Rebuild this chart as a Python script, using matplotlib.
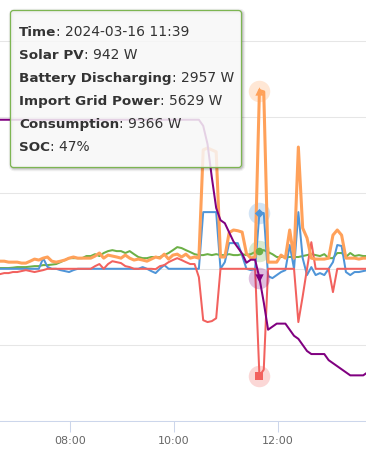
import numpy as np
import pandas as pd
import matplotlib
matplotlib.use('Agg')
import matplotlib.pyplot as plt
import matplotlib.dates as mdates
from matplotlib.patches import FancyBboxPatch

# ---------------- data ----------------
times = pd.date_range('2024-03-16 06:34', periods=87, freq='5min')

solar = [40, 40, 40, 40, 60, 90, 90, 90, 115, 140,
         140, 195, 195, 220, 250, 350, 460, 560, 560, 560,
         560, 670, 670, 770, 670, 830, 930, 980, 930, 930,
         830, 930, 770, 620, 560, 560, 620, 620, 620, 720,
         830, 980, 1140, 1090, 980, 880, 770, 720, 720, 770,
         720, 770, 720, 720, 770, 720, 720, 770, 720, 770,
         880, 942, 980, 880, 770, 620, 620, 620, 620, 620,
         620, 670, 720, 770, 720, 670, 770, 560, 560, 830,
         830, 620, 830, 670, 720, 670, 670]

battery = [0, 0, 0, 0, 0, 0, 0, 0, 0, 0,
           0, 560, 100, 0, 0, -70, -120, -170, -70, 0,
           0, 0, 0, 0, 0, 0, 0, 0, 0, 0,
           0, 0, 0, 0, 90, 0, -120, -225, 0, 195,
           0, 0, 0, 0, 0, 0, 0, 0, 2980, 2980,
           2980, 2980, 0, 350, 1350, 1350, 1350, 700, 0, -70,
           0, 2957, 2930, -380, -490, -330, -170, -70, 1250, 0,
           2980, 560, -330, 90, -330, -225, -330, 0, 350, 1250,
           1200, -170, -330, -170, -170, -120, -70]

grid = [-330, -280, -225, -225, -170, -170, -120, -70, -120, -170,
        -120, -70, 0, 0, 0, 0, 0, 0, 0, 0,
        0, 0, 0, 140, 250, 0, 250, 400, 350, 300,
        140, 90, 0, 0, 0, 0, 0, -20, 140, 195,
        350, 460, 560, 460, 350, 250, 250, -440, -2700, -2800,
        -2750, -2600, 0, 0, 0, 0, 0, 0, 0, 0,
        0, -5629, -5300, 0, 0, 0, 0, 0, 0, 0,
        -2800, -1450, 0, 1400, 0, 0, 0, 0, -1225, 0,
        0, 0, 0, 0, 0, 0, 0]

consumption = [400, 400, 400, 350, 350, 350, 300, 300, 400, 510,
               460, 560, 620, 400, 350, 400, 460, 560, 620, 560,
               560, 560, 560, 670, 830, 560, 720, 670, 620, 560,
               720, 560, 460, 510, 460, 400, 510, 620, 560, 770,
               510, 720, 770, 620, 770, 560, 620, 560, 6250, 6350,
               6250, 6150, 620, 620, 1900, 2040, 2000, 1930, 800, 560,
               620, 9366, 9300, 350, 350, 350, 720, 560, 2040, 560,
               6400, 2140, 1620, 560, 510, 510, 510, 560, 1770, 2040,
               1770, 560, 560, 560, 510, 560, 560]

soc = [99] * 48 + [97, 91, 80, 70, 66, 65, 62, 59, 57, 55, 52, 53, 53, 47, 39,
                   30, 31, 32, 32, 32, 30, 28, 27, 25, 23, 22, 22, 22, 22, 20,
                   19, 18, 17, 16, 15, 15, 15, 15, 16]

tick_times = pd.to_datetime(['2024-03-16 08:00', '2024-03-16 10:00',
                             '2024-03-16 12:00', '2024-03-16 14:00'])
tick_labels = ['08:00', '10:00', '12:00', '14:00']
hover_idx = 61

# ---------------- style ----------------
C_SOLAR = '#6cb046'
C_BATT = '#4f95d8'
C_GRID = '#f2615e'
C_CONS = '#ffa15a'
C_SOC = '#800080'

xnum = mdates.date2num(times.to_pydatetime())
tnum = mdates.date2num(tick_times.to_pydatetime())

fig = plt.figure(figsize=(3.66, 4.65), dpi=100)
ax = fig.add_axes([0, 44 / 465, 1, 421 / 465])
ax.set_xlim(mdates.date2num(pd.Timestamp('2024-03-16 06:39:06').to_pydatetime()),
            mdates.date2num(pd.Timestamp('2024-03-16 13:42:12').to_pydatetime()))
ax.set_ylim(-8000, 14129)
ax.set_yticks([-8000, -4000, 0, 4000, 8000, 12000])
ax.grid(axis='y', color='#e6e6e6', lw=0.75)
ax.set_axisbelow(True)
ax.tick_params(axis='y', length=0, labelleft=False)
for s in ['top', 'right', 'left']:
    ax.spines[s].set_visible(False)
ax.spines['bottom'].set_color('#ccd6eb')
ax.spines['bottom'].set_linewidth(0.75)
ax.set_xticks(tnum[:3])
ax.set_xticklabels(tick_labels[:3])
ax.tick_params(axis='x', length=8, width=0.75, color='#ccd6eb',
               labelcolor='#666666', labelsize=8, pad=3)
ax.annotate(tick_labels[3], xy=(tnum[3], 0), xycoords=ax.get_xaxis_transform(),
            xytext=(0, -11), textcoords='offset points', ha='center', va='top',
            fontsize=8, color='#666666', annotation_clip=False)

ax.plot(xnum, solar, color=C_SOLAR, lw=1.45, zorder=3)
ax.plot(xnum, battery, color=C_BATT, lw=1.45, zorder=4)
ax.plot(xnum, grid, color=C_GRID, lw=1.45, zorder=5)
ax.plot(xnum, consumption, color=C_CONS, lw=2.2, zorder=6)

ax2 = ax.twinx()
ax2.set_ylim(0, 138.35)
ax2.axis('off')
ax2.plot(xnum, soc, color=C_SOC, lw=1.45, zorder=6)

# hover halos & markers
t0 = xnum[hover_idx]
for a, series, col, mk, ms in [
        (ax, solar, C_SOLAR, 'o', 30),
        (ax, battery, C_BATT, 'D', 22),
        (ax, grid, C_GRID, 's', 30),
        (ax, consumption, C_CONS, '^', 36),
        (ax2, soc, C_SOC, 'v', 36)]:
    a.scatter([t0], [series[hover_idx]], s=240, color=col, alpha=0.25, lw=0, zorder=2)
    a.scatter([t0], [series[hover_idx]], s=ms, color=col, marker=mk, lw=0, zorder=7)

# ---------------- tooltip ----------------
ov = fig.add_axes([0, 0, 1, 1], zorder=10)
ov.set_xlim(0, 366)
ov.set_ylim(465, 0)
ov.axis('off')
ov.patch.set_alpha(0)

for off, a_, lw_ in [(1, 0.05, 4), (1, 0.08, 2.5), (1, 0.12, 1)]:
    ov.add_patch(FancyBboxPatch((10.5 + off, 10.5 + off), 231, 157,
                                boxstyle='round,pad=0,rounding_size=3',
                                fc='none', ec='black', alpha=a_, lw=lw_))
ov.add_patch(FancyBboxPatch((10.5, 10.5), 231, 157,
                            boxstyle='round,pad=0,rounding_size=3',
                            fc=(0.969, 0.969, 0.969, 0.85), ec='#7db552', lw=0.9))

rows = [('Time', times[hover_idx].strftime('%Y-%m-%d %H:%M')),
        ('Solar PV', f'{solar[hover_idx]} W'),
        ('Battery Discharging', f'{battery[hover_idx]} W'),
        ('Import Grid Power', f'{-grid[hover_idx]} W'),
        ('Consumption', f'{consumption[hover_idx]} W'),
        ('SOC', f'{soc[hover_idx]}%')]

renderer = fig.canvas.get_renderer()
for k, (lab, val) in enumerate(rows):
    yb = 36 + 23 * k
    t1 = ov.text(19, yb, lab, fontsize=9.7, fontweight='bold', color='#333333', va='baseline')
    bb = t1.get_window_extent(renderer)
    x1 = ov.transData.inverted().transform((bb.x1, bb.y0))[0]
    ov.text(x1, yb, ': ' + val, fontsize=10, color='#333333', va='baseline')

fig.savefig('out.png', dpi=100)
